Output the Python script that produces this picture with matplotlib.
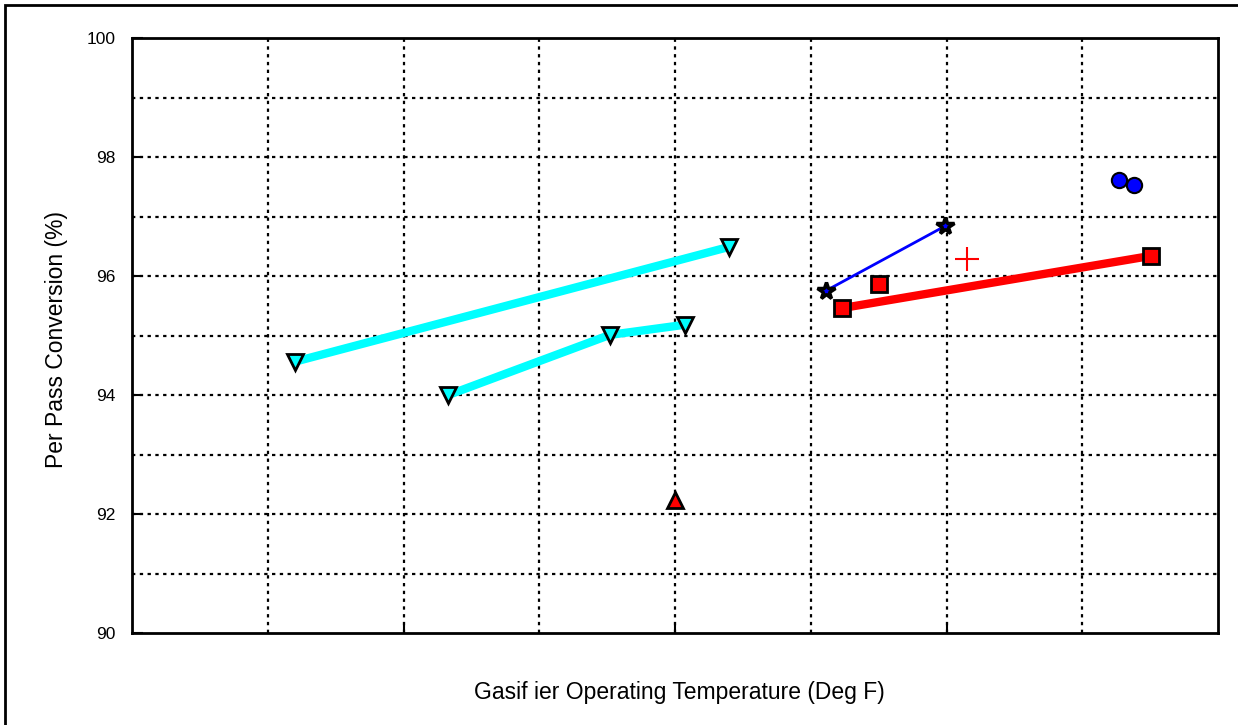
import matplotlib.pyplot as plt
from matplotlib.patches import Rectangle
import numpy as np

plt.rcParams['font.family'] = ['Liberation Sans', 'DejaVu Sans']

# series (x = gasifier temperature, arbitrary scale 1700-2500)
cyan1_x = [1820, 2140]
cyan1_y = [94.56, 96.49]
cyan2_x = [1933, 2052, 2107]
cyan2_y = [94.0, 95.01, 95.18]
tri_x = [2100]
tri_y = [92.24]
star_x = [2211, 2299]
star_y = [95.75, 96.84]
sq_line_x = [2223, 2451]
sq_line_y = [95.46, 96.34]
sq_x = [2250]
sq_y = [95.87]
plus_x = [2315]
plus_y = [96.29]
circ_x = [2427, 2438]
circ_y = [97.61, 97.53]

fig = plt.figure(figsize=(12.38, 7.25), dpi=100)
ax = fig.add_axes([132/1238, 1-633/725, (1218-132)/1238, (633-38)/725])

# dotted grid
for gx in np.arange(1800, 2500, 100):
    ax.axvline(gx, color='black', ls=(0, (1.5, 2)), lw=1.6, zorder=1)
for gy in np.arange(91, 100, 1):
    ax.axhline(gy, color='black', ls=(0, (1.5, 2)), lw=1.6, zorder=1)

ax.plot(cyan1_x, cyan1_y, '-', color='#00ffff', lw=6, solid_capstyle='butt', zorder=2)
ax.plot(cyan1_x, cyan1_y, 'v', color='#00ffff', mec='black', mew=2, ms=11, ls='none', zorder=3)
ax.plot(cyan2_x, cyan2_y, '-', color='#00ffff', lw=6, solid_capstyle='butt', zorder=2)
ax.plot(cyan2_x, cyan2_y, 'v', color='#00ffff', mec='black', mew=2, ms=11, ls='none', zorder=3)
ax.plot(tri_x, tri_y, '^', color='red', mec='black', mew=2, ms=11, ls='none', zorder=3)
ax.plot(star_x, star_y, '-', color='blue', lw=2, zorder=2)
ax.plot(star_x, star_y, '*', color='blue', mec='black', mew=2.5, ms=13, ls='none', zorder=3)
ax.plot(sq_line_x, sq_line_y, '-', color='red', lw=6, solid_capstyle='butt', zorder=2)
ax.plot(sq_line_x + sq_x, sq_line_y + sq_y, 's', color='red', mec='black', mew=2, ms=11, ls='none', zorder=3)
ax.plot(plus_x, plus_y, '+', color='red', mew=1.5, ms=17, ls='none', zorder=3)
ax.plot(circ_x, circ_y, 'o', color='blue', mec='black', mew=1.5, ms=11, ls='none', zorder=3)

ax.set_xlim(1700, 2500)
ax.set_ylim(90, 100)
ax.set_yticks(np.arange(90, 101, 2))
ax.set_yticklabels([str(v) for v in range(90, 101, 2)], fontsize=12.5)
ax.set_xticks([1900, 2100, 2300])
ax.set_xticklabels([])
ax.tick_params(axis='y', direction='in', length=8, width=1.5, left=True, right=False, pad=12)
ax.tick_params(axis='x', direction='in', length=8, width=1.5, bottom=True, top=False)
for s in ax.spines.values():
    s.set_linewidth(2)

fig.text(679/1238, 1-692/725, 'Gasif ier Operating Temperature (Deg F)', ha='center', va='center', fontsize=16.5)
fig.text(57/1238, 1-339/725, 'Per Pass Conversion (%)', ha='center', va='center', rotation=90, fontsize=16.5)

fig.patches.append(Rectangle((5/1238, -0.1), 1.2, 1-5/725+0.1, transform=fig.transFigure,
                             fill=False, edgecolor='black', lw=2))

fig.savefig('out.png', dpi=100)
